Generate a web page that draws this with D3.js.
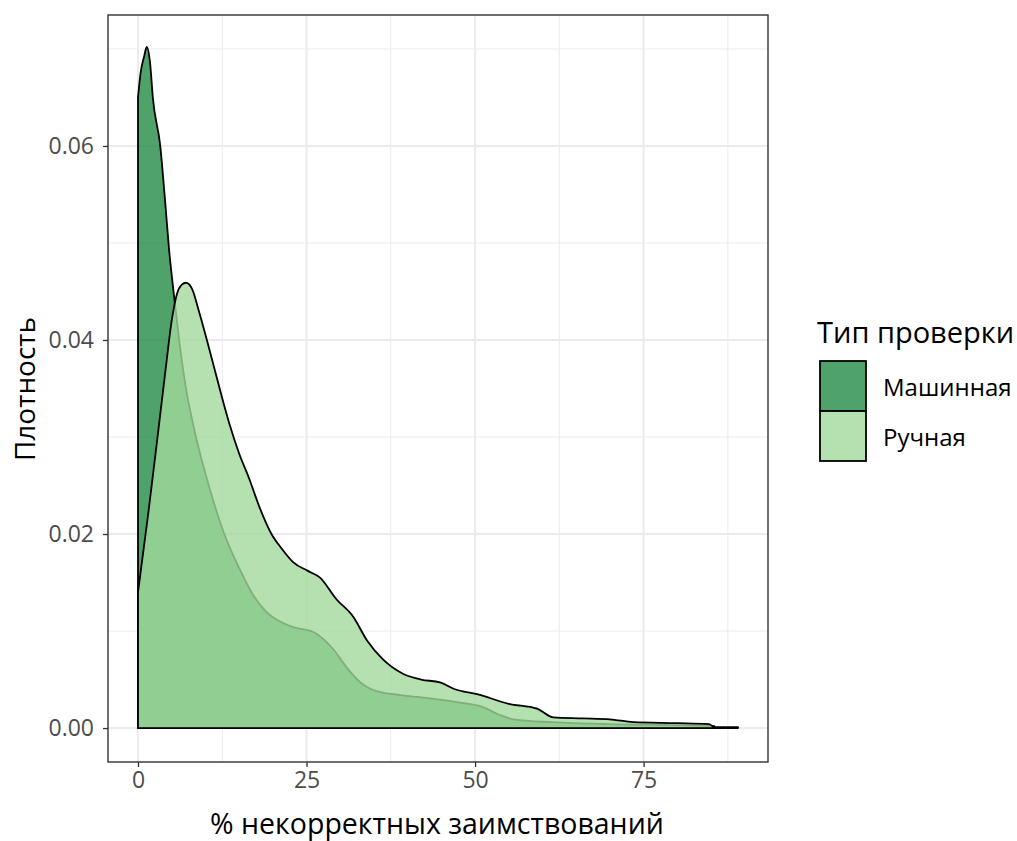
<!DOCTYPE html>
<html>
<head>
<meta charset="utf-8">
<title>Плотность</title>
<script src="https://cdn.jsdelivr.net/npm/d3@7"></script>
<style>
body, html { margin: 0; background: #fff; }
svg { display: block; font-family: "Open Sans", "Noto Sans", sans-serif; }
.grid line { stroke: #ebebeb; }
.axis text { fill: #4d4d4d; font-size: 23px; font-family: "Open Sans", "Noto Sans", sans-serif; }
.axis path { display: none; }
.axis line { stroke: #333; }
</style>
</head>
<body>
<script>
// groups, in legend order
var groups = ["Машинная", "Ручная"];
var fills = ["#238b45", "#a1d99b"];

// density curves: x = % некорректных, y = density
var mashX = [0, 0.4, 0.9, 1.3, 1.8, 2.2, 3.3, 4.0, 4.6, 5.4, 6.1, 7.0, 8.6, 10.5, 12.8, 15, 17, 19, 21, 23, 26, 29, 31, 33, 35.4, 39, 44, 48, 51, 53.5, 55.7, 61.6, 70, 80, 85.5];
var mashY = [0.0650, 0.0676, 0.0692, 0.0702, 0.0685, 0.0650, 0.0600, 0.0545, 0.0494, 0.0442, 0.0400, 0.0355, 0.0300, 0.0250, 0.0200, 0.0165, 0.0138, 0.0120, 0.0110, 0.0104, 0.0099, 0.0081, 0.0062, 0.0047, 0.0038, 0.0034, 0.0030, 0.0026, 0.0022, 0.0014, 0.0009, 0.0006, 0.0004, 0.0003, 0.0002];

var ruchX = [0, 1.5, 2.9, 4.1, 5.0, 5.8, 6.5, 7.1, 8.0, 9.1, 10.6, 12.3, 13.5, 15, 16.5, 18, 19.8, 21.3, 23, 25.2, 27, 29.4, 31.9, 34, 36.3, 39.3, 42, 44.8, 47, 50.3, 55, 59.2, 61.6, 66, 70, 73.5, 80, 84.7, 85.5, 89];
var ruchY = [0.0140, 0.0220, 0.0300, 0.0370, 0.0420, 0.0448, 0.0457, 0.0459, 0.0453, 0.0428, 0.0390, 0.0345, 0.0315, 0.0283, 0.0257, 0.0228, 0.0200, 0.0185, 0.0171, 0.0162, 0.0155, 0.0133, 0.0115, 0.0090, 0.0071, 0.0056, 0.0050, 0.0047, 0.0040, 0.0035, 0.0025, 0.0020, 0.0011, 0.0010, 0.0009, 0.0006, 0.0005, 0.0004, 0.0001, 0.0001];

var xTicks = [0, 25, 50, 75];
var xMinor = [12.5, 37.5, 62.5, 87.5];
var yTicks = [0, 0.02, 0.04, 0.06];
var yMinor = [0.01, 0.03, 0.05, 0.07];

var W = 1017, H = 841;
var panel = {left: 108, right: 768, top: 15, bottom: 762};

var svg = d3.select("body").append("svg")
  .attr("width", W)
  .attr("height", H);

var x = d3.scaleLinear().domain([-4.45, 93.45]).range([panel.left, panel.right]);
var y = d3.scaleLinear().domain([-0.0035, 0.0735]).range([panel.bottom, panel.top]);

// grid
var grid = svg.append("g").attr("class", "grid");
grid.selectAll(".vmin").data(xMinor).enter().append("line")
  .attr("x1", x).attr("x2", x).attr("y1", panel.top).attr("y2", panel.bottom)
  .style("stroke-width", 1);
grid.selectAll(".hmin").data(yMinor).enter().append("line")
  .attr("y1", y).attr("y2", y).attr("x1", panel.left).attr("x2", panel.right)
  .style("stroke-width", 1);
grid.selectAll(".vmaj").data(xTicks).enter().append("line")
  .attr("x1", x).attr("x2", x).attr("y1", panel.top).attr("y2", panel.bottom)
  .style("stroke-width", 2);
grid.selectAll(".hmaj").data(yTicks).enter().append("line")
  .attr("y1", y).attr("y2", y).attr("x1", panel.left).attr("x2", panel.right)
  .style("stroke-width", 2);

// densities
function polygon(xs, ys) {
  return xs.map(function(v, i) { return [v, ys[i]]; });
}
var area = d3.area()
  .x(function(d) { return x(d[0]); })
  .y0(y(0))
  .y1(function(d) { return y(d[1]); })
  .curve(d3.curveMonotoneX);

var series = [polygon(mashX, mashY), polygon(ruchX, ruchY)];

svg.append("g").selectAll("path")
  .data(series)
  .enter().append("path")
  .attr("d", area)
  .attr("fill", function(d, i) { return fills[i]; })
  .attr("fill-opacity", 0.8)
  .attr("stroke", "#000")
  .attr("stroke-width", 1.8)
  .attr("stroke-linejoin", "round");

// panel border
svg.append("rect")
  .attr("x", panel.left).attr("y", panel.top)
  .attr("width", panel.right - panel.left).attr("height", panel.bottom - panel.top)
  .attr("fill", "none").attr("stroke", "#333").attr("stroke-width", 1.4);

// axes
var xAxis = svg.append("g").attr("class", "axis")
  .attr("transform", "translate(0," + panel.bottom + ")")
  .call(d3.axisBottom(x).tickValues(xTicks).tickSize(5).tickPadding(5).tickFormat(d3.format("d")));
xAxis.selectAll("line").style("stroke-width", 1.3);

var yAxis = svg.append("g").attr("class", "axis")
  .attr("transform", "translate(" + panel.left + ",0)")
  .call(d3.axisLeft(y).tickValues(yTicks).tickSize(5).tickPadding(9).tickFormat(d3.format(".2f")));
yAxis.selectAll("line").style("stroke-width", 1.3);

// axis titles
svg.append("text")
  .attr("x", 437)
  .attr("y", 834)
  .attr("text-anchor", "middle")
  .style("font-size", "28.5px")
  .style("fill", "#000")
  .text("% некорректных заимствований");

svg.append("text")
  .attr("transform", "translate(35,389) rotate(-90)")
  .attr("text-anchor", "middle")
  .style("font-size", "28px")
  .style("fill", "#000")
  .text("Плотность");

// legend
var leg = svg.append("g").attr("transform", "translate(820,0)");
leg.append("text")
  .attr("x", -3).attr("y", 343)
  .style("font-size", "29px")
  .text("Тип проверки");

var keyH = 50;
leg.selectAll("rect.key").data(groups).enter().append("rect")
  .attr("class", "key")
  .attr("x", 0)
  .attr("y", function(d, i) { return 361 + i * keyH; })
  .attr("width", 46).attr("height", keyH)
  .attr("fill", function(d, i) { return fills[i]; })
  .attr("fill-opacity", 0.8)
  .attr("stroke", "#000").attr("stroke-width", 1.8);

leg.selectAll("text.lab").data(groups).enter().append("text")
  .attr("class", "lab")
  .attr("x", 63)
  .attr("y", function(d, i) { return 361 + i * keyH + keyH / 2 + 2; })
  .attr("dy", "0.35em")
  .style("font-size", "24px")
  .text(function(d) { return d; });
</script>
</body>
</html>
